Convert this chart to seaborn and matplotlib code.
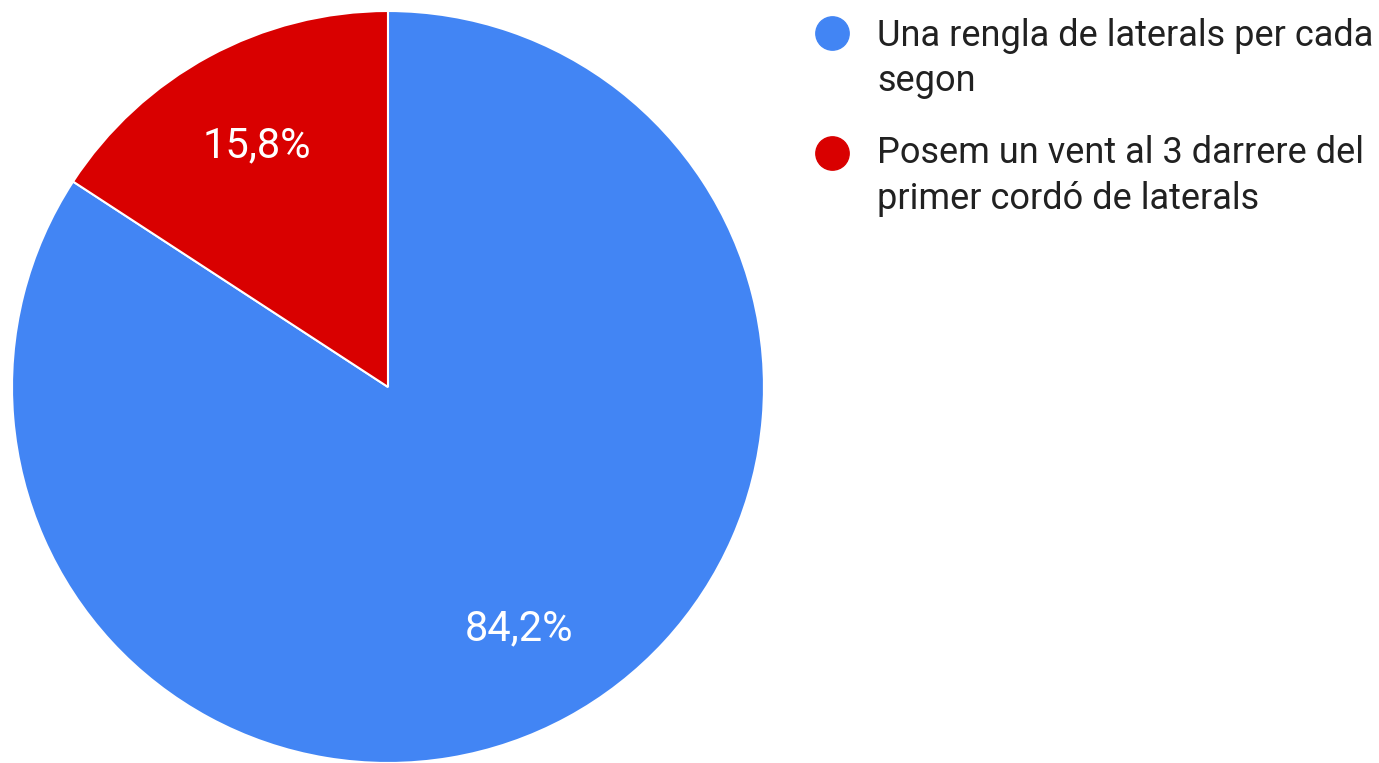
import matplotlib
matplotlib.use("Agg")
import matplotlib.pyplot as plt
import numpy as np
import seaborn as sns

sns.set_theme(style="white")
plt.rcParams["font.family"] = ["Roboto", "DejaVu Sans"]

# dades del gràfic
categories = ["Una rengla de laterals per cada\nsegon",
              "Posem un vent al 3 darrere del\nprimer cordó de laterals"]
values = [84.2, 15.8]
pct_labels = ["84,2%", "15,8%"]
colors = ["#4285F4", "#D90000"]

fig = plt.figure(figsize=(13.79, 7.63), dpi=100)
ax = fig.add_axes([0.0087, 0.0, 0.5453, 0.9856])

wedges, _ = ax.pie(values, colors=colors, startangle=90, counterclock=False,
                   wedgeprops=dict(edgecolor="white", linewidth=1.5))
ax.set_xlim(-1, 1)
ax.set_ylim(-1, 1)
ax.set_aspect("equal")

# etiquetes de percentatge dins de cada sector
for w, lab in zip(wedges, pct_labels):
    ang = np.deg2rad((w.theta1 + w.theta2) / 2)
    ax.text(0.73 * np.cos(ang), 0.73 * np.sin(ang), lab, color="white",
            fontsize=30, ha="center", va="center")

# llegenda feta a mà (cercle alineat amb la primera línia)
marker_y = [0.9567, 0.8001]
text_y = [0.8807, 0.7261]   # línia base de l'última línia
for my, ty, lab, c in zip(marker_y, text_y, categories, colors):
    fig.lines.append(plt.Line2D([0.6035], [my], marker="o", markersize=24,
                                color=c, transform=fig.transFigure,
                                linestyle="none"))
    fig.text(0.636, ty, lab, fontsize=26, color="#212121",
             ha="left", va="baseline", linespacing=1.34)

fig.savefig("out.png", dpi=100)
